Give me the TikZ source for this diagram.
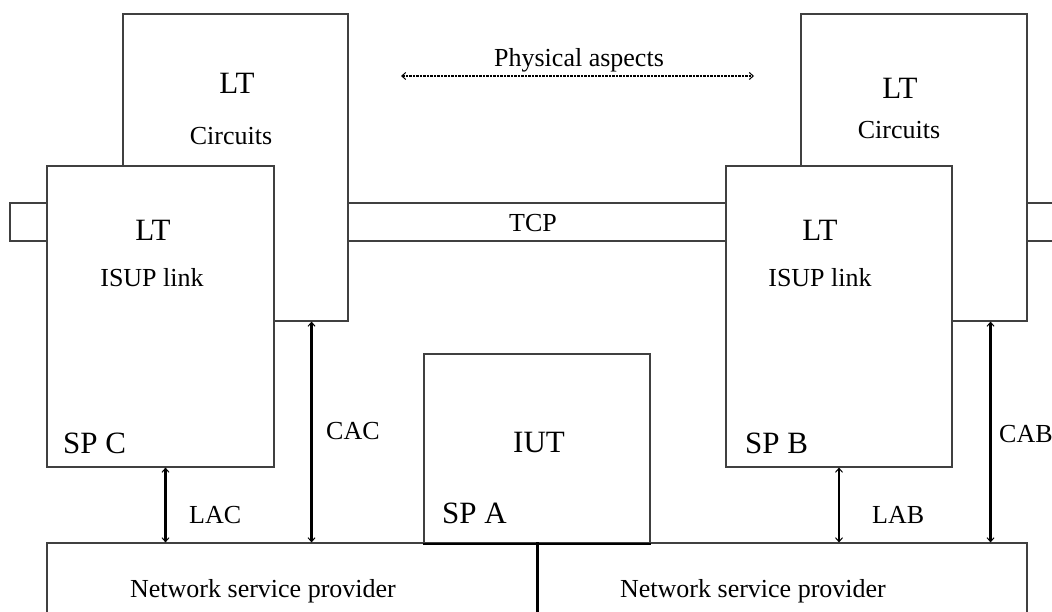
\documentclass[tikz,border=0pt]{standalone}
\usepackage{fontspec}
\setmainfont{Liberation Serif}
\usetikzlibrary{arrows.meta}

\tikzset{
  box/.style={draw=black!75, line width=1.1pt, fill=white, inner sep=0pt},
  txt/.style={font=\fontsize{26}{30}\selectfont, inner sep=0pt},
  bigtxt/.style={font=\fontsize{31}{36}\selectfont, inner sep=0pt},
  barb/.tip={Straight Barb[length=4pt,width=7pt,line width=1pt]},
  link/.style={line width=2.4pt, barb-barb},
  aspect/.style={line width=1.4pt, dash pattern=on 2.5pt off 1pt, barb-barb},
}

\begin{document}
\begin{tikzpicture}[x=1pt, y=-1pt]
	%%%%% START %%%%%
	\useasboundingbox (0, 0) rectangle (1052, 612);
	\clip (0, 0) rectangle (1052, 612);

	% TCP band under the boxes
	\draw[draw=black!75, line width=1.1pt] (10, 203) rectangle (1080, 241);
	\node[txt, anchor=base] (tcp) at (533, 232) {TCP};

	% circuits
	\node[box, minimum width=225pt, minimum height=307pt] (ccl) at (235.5, 167.5) {};
	\node[box, minimum width=226pt, minimum height=307pt] (ccr) at (914, 167.5) {};
	\node[bigtxt, anchor=base] (ccl-lt) at (237, 94) {LT};
	\node[txt, anchor=base] (ccl-name) at (231, 145) {Circuits};
	\node[bigtxt, anchor=base] (ccr-lt) at (900, 99) {LT};
	\node[txt, anchor=base] (ccr-name) at (899, 139) {Circuits};

	% ISUP links
	\node[box, minimum width=227pt, minimum height=301pt] (spc) at (160.5, 316.5) {};
	\node[box, minimum width=226pt, minimum height=301pt] (spb) at (839, 316.5) {};
	\node[bigtxt, anchor=base] (spc-lt) at (153, 241) {LT};
	\node[txt, anchor=base] (spc-name) at (152, 287) {ISUP link};
	\node[bigtxt, anchor=base west] (spc-sp) at (63, 453) {SP C};
	\node[bigtxt, anchor=base] (spb-lt) at (820, 241) {LT};
	\node[txt, anchor=base] (spb-name) at (820, 287) {ISUP link};
	\node[bigtxt, anchor=base west] (spb-sp) at (745, 453) {SP B};

	% IUT
	\node[box, minimum width=226pt, minimum height=189pt] (iut) at (537, 448.5) {};
	\node[bigtxt, anchor=base] (iut-name) at (539, 452) {IUT};
	\node[bigtxt, anchor=base west] (iut-sp) at (442, 523) {SP A};

	% network service providers
	\node[box, minimum width=490pt, minimum height=160pt] (nsp1) at (292, 623) {};
	\node[box, minimum width=490pt, minimum height=160pt] (nsp2) at (782, 623) {};
	\draw[line width=2.2pt] (nsp1.north east) -- (nsp1.south east);
	\draw[line width=2pt] (iut.south west) -- (iut.south east);
	\node[txt, anchor=base] (nsp1-name) at (263, 597) {Network service provider};
	\node[txt, anchor=base] (nsp2-name) at (753, 597) {Network service provider};

	% physical aspects
	\coordinate (pa-l) at (401, 76);
	\coordinate (pa-r) at (754, 76);
	\draw[aspect] (pa-l) -- (pa-r);
	\node[txt, anchor=base] (pa) at (579, 67) {Physical aspects};

	% access points
	\draw[link] ([xshift=5pt]spc.south) -- ([xshift=5pt]spc.south |- nsp1.north);
	\draw[link] ([xshift=-37pt]ccl.south east) -- ([xshift=-37pt]ccl.south east |- nsp1.north);
	\draw[link] (spb.south) -- (spb.south |- nsp2.north);
	\draw[link] ([xshift=-37pt]ccr.south east) -- ([xshift=-37pt]ccr.south east |- nsp2.north);
	\node[txt, anchor=base west] (lac) at (189, 523) {LAC};
	\node[txt, anchor=base west] (cac) at (326, 439) {CAC};
	\node[txt, anchor=base west] (lab) at (872, 523) {LAB};
	\node[txt, anchor=base west] (cab) at (999, 442) {CAB};
	%%%%% END %%%%%
\end{tikzpicture}
\end{document}
